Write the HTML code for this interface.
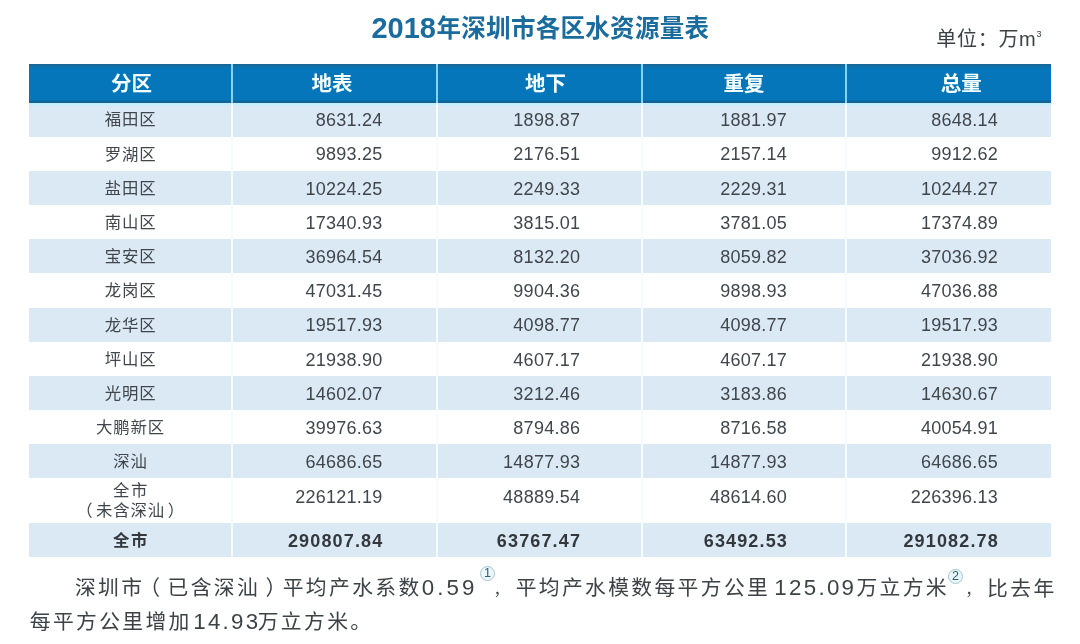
<!DOCTYPE html>
<html lang="zh-CN"><head><meta charset="utf-8"><title>2018年深圳市各区水资源量表</title>
<style>
html,body{margin:0;padding:0;background:#fff;}
body{width:1080px;height:644px;position:relative;overflow:hidden;font-family:"Liberation Sans","Noto Sans CJK SC",sans-serif;color:#40464c;}
.abs{position:absolute;white-space:nowrap;}
.title{left:371.4px;top:7.3px;font-size:24.5px;letter-spacing:.3px;font-weight:bold;color:#1a6c9e;line-height:40px;height:40px}
.title .n{font-size:29px;letter-spacing:0;margin-right:.6px;position:relative;top:.8px}
.unit{left:936.3px;top:20.3px;font-size:20px;line-height:28px;color:#3d4247;letter-spacing:.7px}
.unit sup{font-size:9px;vertical-align:9px;letter-spacing:0}
.row{position:absolute;left:28.6px;width:1022.4px;}
.blue{background:linear-gradient(to bottom,#17699a 0,#15699a 1.6px,#0f72ab 2px,#0e73ad 3.6px,#0576ba 4.2px,#0576ba 35.6px,#0b6fa9 36.4px,#0b6ea8 37.2px,#136394 37.6px,#136394 100%);}
.lt{background:#dbe9f5;}
.sep{position:absolute;width:2px;}
.hd{position:absolute;top:65.3px;height:38.3px;line-height:38.3px;font-size:20.5px;font-weight:bold;color:#f2feff;text-align:center;width:100px;margin-left:-50px;}
.nm{position:absolute;text-align:center;width:200px;left:30.6px;font-size:16.4px;letter-spacing:.9px;height:34px;line-height:34px;}
.v{position:absolute;text-align:right;width:150px;font-size:18px;letter-spacing:.25px;height:34px;line-height:34px;}
.b{font-weight:bold;color:#33383d}
.p{position:absolute;font-size:20.8px;letter-spacing:2.34px;color:#3d4247;line-height:30px;white-space:nowrap}
.d{font-size:22.3px;letter-spacing:2.4px}
.k{font-size:15px;letter-spacing:0}
.c{position:absolute;box-sizing:border-box;font-size:12.6px;color:#2f5f74;border:1px solid #a9c6d3;background:#eaf6fa;border-radius:50%;width:15.2px;height:15.2px;line-height:13.6px;text-align:center;}
</style></head><body>

<div class="abs title"><span id="tt1" class="n">2018</span><span id="tt2">年深圳市各区水资源量表</span></div>
<div id="un" class="abs unit">单位：万m<sup>3</sup></div>
<div class="row blue" style="top:64.3px;height:38.7px"></div>
<div class="row" style="top:103.0px;height:3px;background:linear-gradient(to bottom,#bfeefe 0,#c5f0fd 2px,#dbe9f5 3px);z-index:1"></div>
<div class="row lt" style="top:102.6px;height:34.15px"></div>
<div class="row lt" style="top:170.9px;height:34.15px"></div>
<div class="row lt" style="top:239.2px;height:34.15px"></div>
<div class="row lt" style="top:307.5px;height:34.15px"></div>
<div class="row lt" style="top:375.8px;height:34.15px"></div>
<div class="row lt" style="top:444.1px;height:34.15px"></div>
<div class="row lt" style="top:522.8px;height:33.8px"></div>
<div class="sep" style="left:231px;top:64.3px;height:38.7px;background:#86d3fc;z-index:2"></div>
<div class="sep" style="left:231px;top:103.0px;height:453.6px;background:#f5fcff;z-index:2"></div>
<div class="sep" style="left:435.7px;top:64.3px;height:38.7px;background:#86d3fc;z-index:2"></div>
<div class="sep" style="left:435.7px;top:103.0px;height:453.6px;background:#f5fcff;z-index:2"></div>
<div class="sep" style="left:640.5px;top:64.3px;height:38.7px;background:#86d3fc;z-index:2"></div>
<div class="sep" style="left:640.5px;top:103.0px;height:453.6px;background:#f5fcff;z-index:2"></div>
<div class="sep" style="left:845.2px;top:64.3px;height:38.7px;background:#86d3fc;z-index:2"></div>
<div class="sep" style="left:845.2px;top:103.0px;height:453.6px;background:#f5fcff;z-index:2"></div>
<div id="h0" class="hd" style="left:131.6px">分区</div>
<div id="h1" class="hd" style="left:331.9px">地表</div>
<div id="h2" class="hd" style="left:545.5px">地下</div>
<div id="h3" class="hd" style="left:744px">重复</div>
<div id="h4" class="hd" style="left:961.2px">总量</div>
<div id="n0" class="nm" style="top:102px">福田区</div>
<div id="v0_0" class="v" style="top:103px;left:232.5px">8631.24</div>
<div id="v0_1" class="v" style="top:103px;left:430.2px">1898.87</div>
<div id="v0_2" class="v" style="top:103px;left:637.1px">1881.97</div>
<div id="v0_3" class="v" style="top:103px;left:848.0px">8648.14</div>
<div id="n1" class="nm" style="top:137px">罗湖区</div>
<div id="v1_0" class="v" style="top:137px;left:232.5px">9893.25</div>
<div id="v1_1" class="v" style="top:137px;left:430.2px">2176.51</div>
<div id="v1_2" class="v" style="top:137px;left:637.1px">2157.14</div>
<div id="v1_3" class="v" style="top:137px;left:848.0px">9912.62</div>
<div id="n2" class="nm" style="top:171px">盐田区</div>
<div id="v2_0" class="v" style="top:172px;left:232.5px">10224.25</div>
<div id="v2_1" class="v" style="top:172px;left:430.2px">2249.33</div>
<div id="v2_2" class="v" style="top:172px;left:637.1px">2229.31</div>
<div id="v2_3" class="v" style="top:172px;left:848.0px">10244.27</div>
<div id="n3" class="nm" style="top:205px">南山区</div>
<div id="v3_0" class="v" style="top:206px;left:232.5px">17340.93</div>
<div id="v3_1" class="v" style="top:206px;left:430.2px">3815.01</div>
<div id="v3_2" class="v" style="top:206px;left:637.1px">3781.05</div>
<div id="v3_3" class="v" style="top:206px;left:848.0px">17374.89</div>
<div id="n4" class="nm" style="top:239px">宝安区</div>
<div id="v4_0" class="v" style="top:240px;left:232.5px">36964.54</div>
<div id="v4_1" class="v" style="top:240px;left:430.2px">8132.20</div>
<div id="v4_2" class="v" style="top:240px;left:637.1px">8059.82</div>
<div id="v4_3" class="v" style="top:240px;left:848.0px">37036.92</div>
<div id="n5" class="nm" style="top:273px">龙岗区</div>
<div id="v5_0" class="v" style="top:274px;left:232.5px">47031.45</div>
<div id="v5_1" class="v" style="top:274px;left:430.2px">9904.36</div>
<div id="v5_2" class="v" style="top:274px;left:637.1px">9898.93</div>
<div id="v5_3" class="v" style="top:274px;left:848.0px">47036.88</div>
<div id="n6" class="nm" style="top:308px">龙华区</div>
<div id="v6_0" class="v" style="top:308px;left:232.5px">19517.93</div>
<div id="v6_1" class="v" style="top:308px;left:430.2px">4098.77</div>
<div id="v6_2" class="v" style="top:308px;left:637.1px">4098.77</div>
<div id="v6_3" class="v" style="top:308px;left:848.0px">19517.93</div>
<div id="n7" class="nm" style="top:342px">坪山区</div>
<div id="v7_0" class="v" style="top:343px;left:232.5px">21938.90</div>
<div id="v7_1" class="v" style="top:343px;left:430.2px">4607.17</div>
<div id="v7_2" class="v" style="top:343px;left:637.1px">4607.17</div>
<div id="v7_3" class="v" style="top:343px;left:848.0px">21938.90</div>
<div id="n8" class="nm" style="top:376px">光明区</div>
<div id="v8_0" class="v" style="top:377px;left:232.5px">14602.07</div>
<div id="v8_1" class="v" style="top:377px;left:430.2px">3212.46</div>
<div id="v8_2" class="v" style="top:377px;left:637.1px">3183.86</div>
<div id="v8_3" class="v" style="top:377px;left:848.0px">14630.67</div>
<div id="n9" class="nm" style="top:410px">大鹏新区</div>
<div id="v9_0" class="v" style="top:411px;left:232.5px">39976.63</div>
<div id="v9_1" class="v" style="top:411px;left:430.2px">8794.86</div>
<div id="v9_2" class="v" style="top:411px;left:637.1px">8716.58</div>
<div id="v9_3" class="v" style="top:411px;left:848.0px">40054.91</div>
<div id="n10" class="nm" style="top:444px">深汕</div>
<div id="v10_0" class="v" style="top:445px;left:232.5px">64686.65</div>
<div id="v10_1" class="v" style="top:445px;left:430.2px">14877.93</div>
<div id="v10_2" class="v" style="top:445px;left:637.1px">14877.93</div>
<div id="v10_3" class="v" style="top:445px;left:848.0px">64686.65</div>
<div id="q1" class="nm" style="top:479px;height:22px;line-height:22px;letter-spacing:1.6px;margin-left:.3px">全市</div>
<div id="q2" class="nm" style="top:499px;height:22px;line-height:22px"><span style="position:relative;left:-2.5px">（</span>未含深汕<span style="position:relative;left:2.5px">）</span></div>
<div id="qv0" class="v" style="top:480px;left:232.5px">226121.19</div>
<div id="qv1" class="v" style="top:480px;left:430.2px">48889.54</div>
<div id="qv2" class="v" style="top:480px;left:637.1px">48614.60</div>
<div id="qv3" class="v" style="top:480px;left:848.0px">226396.13</div>
<div id="tn" class="nm b" style="top:523px;letter-spacing:1.6px;margin-left:.3px">全市</div>
<div id="tv0" class="v b" style="top:524px;left:233.4px;letter-spacing:1.15px">290807.84</div>
<div id="tv1" class="v b" style="top:524px;left:431.1px;letter-spacing:1.15px">63767.47</div>
<div id="tv2" class="v b" style="top:524px;left:638.0px;letter-spacing:1.15px">63492.53</div>
<div id="tv3" class="v b" style="top:524px;left:848.9px;letter-spacing:1.15px">291082.78</div>
<div id="s1" class="p" style="left:74.94px;top:572.66px">深圳市</div>
<div id="s2" class="p" style="left:139.3px;top:573.0px">（</div>
<div id="s3" class="p" style="left:167.58px;top:572.65px">已含深汕</div>
<div id="s4" class="p" style="left:265.38px;top:572.93px">）</div>
<div id="s5" class="p" style="left:282.74px;top:572.6px">平均产水系数</div>
<div id="s6" class="p d" style="left:421.65px;top:573.2px;letter-spacing:3.15px">0.59</div>
<div id="s7" class="p k" style="left:493.67px;top:574.68px">，</div>
<div id="s8" class="p" style="left:515.66px;top:573.4px">平均产水模数每平方公里</div>
<div id="s9" class="p d" style="left:774.34px;top:573.0px;letter-spacing:2.3px">125.09</div>
<div id="s10" class="p" style="left:856.46px;top:573.04px">万立方米</div>
<div id="s11" class="p k" style="left:965.52px;top:574.71px">，</div>
<div id="s12" class="p" style="left:987.12px;top:573.68px">比去年</div>
<div id="t1" class="p" style="left:29.8px;top:606.78px">每平方公里增加</div>
<div id="t2" class="p d" style="left:193.25px;top:606.6px;letter-spacing:2.25px">14.93</div>
<div id="t3" class="p" style="left:257.72px;top:606.88px">万立方米。</div>
<div class="c" style="left:480px;top:565.6px">1</div>
<div class="c" style="left:947.8px;top:569.2px">2</div>
</body></html>
